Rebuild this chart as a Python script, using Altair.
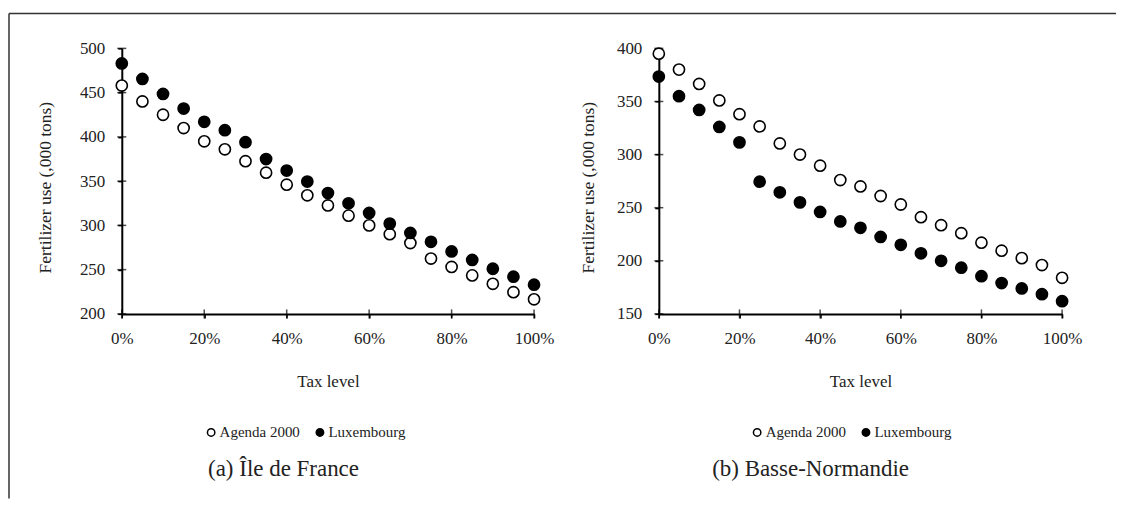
import altair as alt
import pandas as pd

tax = [i / 100 for i in range(0, 101, 5)]

idf_agenda = [458, 440, 425, 410, 395, 386, 372.5, 359.5, 346, 334, 322.5, 311, 300, 290, 280, 262.5, 253, 243.5, 234, 224.5, 216.5]
idf_lux = [483, 465.5, 448.5, 432, 417, 407.5, 394, 375, 362, 349.5, 336.5, 325, 314, 302, 291.5, 281.5, 270.5, 261, 251, 242, 233]

bn_agenda = [395, 380, 366.5, 351, 338, 326.5, 310.5, 300, 289.5, 276, 270, 261, 253, 241, 233.5, 226, 217, 209.5, 202.5, 196, 184]
bn_lux = [373.5, 355, 342, 326, 311.5, 274.5, 264.5, 255, 246, 237, 231, 222.5, 215, 207, 200, 193.5, 185.5, 179, 174, 168.5, 162]

series_names = ["Agenda 2000", "Luxembourg"]
x_ticks = [0, 0.2, 0.4, 0.6, 0.8, 1.0]
left_y_ticks = [200, 250, 300, 350, 400, 450, 500]
right_y_ticks = [150, 200, 250, 300, 350, 400]
captions = ["(a) Île de France", "(b) Basse-Normandie"]

FONT = "Liberation Serif"


def make_df(a, l):
    return pd.DataFrame({
        "tax": tax * 2,
        "value": a + l,
        "series": [series_names[0]] * len(a) + [series_names[1]] * len(l),
    })


def panel(a, l, ydom, yticks, caption, w, legx, capx, ytx, border=False):
    df = make_df(a, l)
    xs = alt.Scale(domain=[0, 1], nice=False)
    ys = alt.Scale(domain=ydom, nice=False, zero=False)
    xaxis = alt.Axis(values=x_ticks, format=".0%", title="Tax level", grid=False,
                     tickSize=4, tickWidth=1.5, tickColor="black", labelFlush=False,
                     domainColor="black", domainWidth=2,
                     labelFont=FONT, labelFontSize=17, labelColor="#222", labelPadding=13,
                     titleFont=FONT, titleFontSize=17, titleFontWeight="normal", titleColor="#222",
                     titlePadding=27)
    yaxis = alt.Axis(values=yticks, title="Fertilizer use (,000 tons)", grid=False,
                     tickSize=4, tickWidth=1.5, tickColor="black", labelFlush=False,
                     domainColor="black", domainWidth=2,
                     labelFont=FONT, labelFontSize=17, labelColor="#222", labelPadding=13,
                     titleFont=FONT, titleFontSize=17.5, titleFontWeight="normal", titleColor="#222",
                     titleX=ytx, titleY=139, titleAngle=-90, titleAlign="center", titleBaseline="middle")
    pts = alt.Chart(df).mark_point(filled=False, size=125, strokeWidth=1.6, stroke="black", opacity=1).encode(
        x=alt.X("tax:Q", scale=xs, axis=xaxis),
        y=alt.Y("value:Q", scale=ys, axis=yaxis),
        fill=alt.Fill("series:N",
                      scale=alt.Scale(domain=series_names, range=["white", "black"]),
                      legend=alt.Legend(orient="none", legendX=legx, legendY=377, direction="horizontal",
                                        title=None, symbolType="circle", symbolSize=55,
                                        symbolStrokeColor="black", symbolStrokeWidth=1.5,
                                        labelFont=FONT, labelFontSize=15, labelColor="#222",
                                        labelOffset=1, columnPadding=12)),
    )
    xt = alt.Chart(pd.DataFrame({"t": x_ticks})).mark_tick(orient="vertical", size=9, thickness=1.5, color="black").encode(
        x=alt.X("t:Q", scale=xs), y=alt.datum(ydom[0]))
    yt = alt.Chart(pd.DataFrame({"t": yticks})).mark_tick(orient="horizontal", size=9, thickness=1.5, color="black").encode(
        y=alt.Y("t:Q", scale=ys), x=alt.datum(0))
    cap = alt.Chart(pd.DataFrame({"c": [caption]})).mark_text(
        font=FONT, fontSize=23, color="#222", align="center", baseline="middle").encode(
        text="c:N", x=alt.value(capx), y=alt.value(421))
    layers = [xt, yt, pts, cap]
    if border:
        top = alt.Chart(pd.DataFrame({"d": [0]})).mark_rule(color="#333", strokeWidth=1.5).encode(
            x=alt.value(-113), x2=alt.value(996), y=alt.value(-35))
        left = alt.Chart(pd.DataFrame({"d": [0]})).mark_rule(color="#333", strokeWidth=1.5).encode(
            x=alt.value(-113), y=alt.value(-35), y2=alt.value(451))
        layers = [top, left] + layers
    return alt.layer(*layers).properties(width=w, height=266)


left = panel(idf_agenda, idf_lux, [200, 500], left_y_ticks, captions[0], 413, 82, 162, -76, border=True)
right = panel(bn_agenda, bn_lux, [150, 400], right_y_ticks, captions[1], 404, 91, 152, -70)

chart = alt.hconcat(left, right, spacing=125, bounds="flush").resolve_scale(fill="independent").properties(
    padding={"left": 0, "top": 4, "right": 0, "bottom": 0}
).configure_view(stroke=None)

chart.save("out.html", embed_options={"renderer": "svg", "actions": False})
